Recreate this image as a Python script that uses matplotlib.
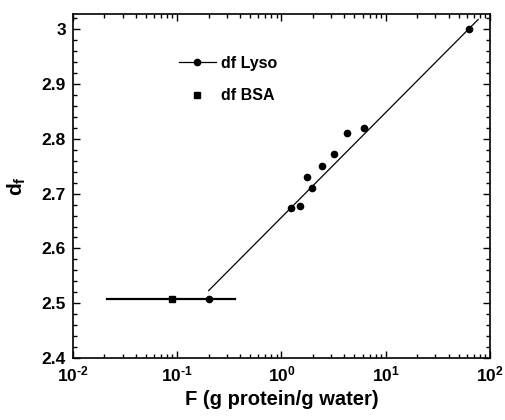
import numpy as np
import matplotlib
matplotlib.use("Agg")
import matplotlib.pyplot as plt
from matplotlib.ticker import LogLocator, MultipleLocator, NullFormatter, FixedLocator, FixedFormatter
from matplotlib.lines import Line2D

plt.rcParams['font.family'] = ['Liberation Sans', 'DejaVu Sans']
plt.rcParams['font.weight'] = 'bold'
plt.rcParams['mathtext.fontset'] = 'custom'
plt.rcParams['mathtext.rm'] = 'Liberation Sans:bold'
plt.rcParams['mathtext.bf'] = 'Liberation Sans:bold'
plt.rcParams['mathtext.it'] = 'Liberation Sans:bold'

# data
lyso_F = [0.2, 1.24, 1.49, 1.75, 1.98, 2.47, 3.17, 4.26, 6.15, 63.0]
lyso_df = [2.508, 2.674, 2.677, 2.730, 2.710, 2.750, 2.772, 2.811, 2.820, 3.000]
bsa_F = [0.09]
bsa_df = [2.508]
fit_F = [0.2, 77.0]
fit_df = [2.523, 3.018]
flat_F = [0.021, 0.357]
flat_df = [2.508, 2.508]
x_ticks = [1e-2, 1e-1, 1e0, 1e1, 1e2]
x_ticklabels = [r'$\mathbf{10^{\text{-}2}}$', r'$\mathbf{10^{\text{-}1}}$', r'$\mathbf{10^{0}}$',
                r'$\mathbf{10^{1}}$', r'$\mathbf{10^{2}}$']
y_ticks = [2.4, 2.5, 2.6, 2.7, 2.8, 2.9, 3.0]
y_ticklabels = ['2.4', '2.5', '2.6', '2.7', '2.8', '2.9', '3']

fig = plt.figure(figsize=(5.06, 4.2), dpi=100)
ax = fig.add_axes([73/506, 1-358/420, (490-73)/506, (358-14)/420])

ax.plot(fit_F, fit_df, color='black', lw=0.9)
ax.plot(flat_F, flat_df, color='black', lw=1.6)
ax.plot(lyso_F, lyso_df, 'o', color='black', ms=4.5)
ax.plot(bsa_F, bsa_df, 's', color='black', ms=4.5)

ax.set_xscale('log')
ax.set_xlim(1e-2, 1e2)
ax.set_ylim(2.4, 3.028)
ax.set_yticks(y_ticks)
ax.set_yticklabels(y_ticklabels)
ax.yaxis.set_minor_locator(MultipleLocator(0.02))
ax.xaxis.set_major_locator(FixedLocator(x_ticks))
ax.xaxis.set_major_formatter(FixedFormatter(x_ticklabels))
ax.xaxis.set_minor_locator(LogLocator(base=10, subs=np.arange(2, 10), numticks=20))
ax.xaxis.set_minor_formatter(NullFormatter())

ax.tick_params(which='both', direction='in', top=True, right=True, width=1.0)
ax.tick_params(axis='y', which='major', length=5, labelsize=12.5, pad=5)
ax.tick_params(axis='x', which='major', length=5, labelsize=12.5, pad=5)
ax.tick_params(which='minor', length=3)
for lab in ax.get_xticklabels() + ax.get_yticklabels():
    lab.set_fontweight('bold')
for s in ax.spines.values():
    s.set_linewidth(1.2)

ax.set_xlabel('F (g protein/g water)', fontsize=14.5, fontweight='bold', labelpad=4)
ax.set_ylabel(r'd$_\mathbf{f}$', fontsize=15, fontweight='bold', labelpad=10)

h1 = Line2D([], [], color='black', lw=0.9, marker='o', ms=4.5)
h2 = Line2D([], [], color='black', lw=0, marker='s', ms=4.5)
ax.legend([h1, h2], ['df Lyso', 'df BSA'], loc='upper left',
          bbox_to_anchor=(0.22, 0.92), frameon=False,
          handlelength=2.3, handletextpad=0.35, labelspacing=1.1,
          prop={'weight': 'bold', 'size': 11.5})

fig.savefig('out.png', dpi=100)
